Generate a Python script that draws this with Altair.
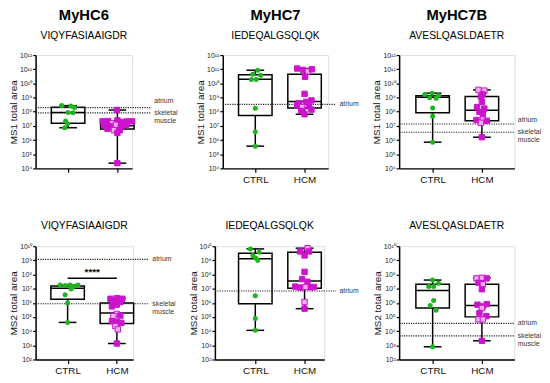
import altair as alt
import pandas as pd

GROUPS = ["CTRL", "HCM"]
GENES = ["MyHC6", "MyHC7", "MyHC7B"]
PEPTIDES = ["VIQYFASIAAIGDR", "IEDEQALGSQLQK", "AVESLQASLDAETR"]

GREEN = "#1fb31f"
MAGENTA = "#cc14cc"
PINK = "#f0b0f0"
FONT = "Liberation Sans"

# all values are log10(total area)
# ---- MS1, MyHC6
P1_CTRL = [8.43, 8.41, 8.29, 7.94, 7.92, 7.34, 7.15, 6.87]
P1_CTRL_JIT = [-0.13, 0.05, 0.13, 0.0, 0.10, -0.05, -0.01, -0.07]
P1_HCM = [8.12, 7.32, 7.34, 7.20, 7.39, 7.28, 7.32, 7.32, 7.04, 6.97, 7.08, 6.97, 7.04, 6.80, 6.69, 6.69, 6.50, 4.37]
P1_HCM_JIT = [-0.01, -0.30, -0.19, -0.10, 0.0, 0.10, 0.20, 0.30, -0.27, -0.15, -0.03, 0.07, 0.17, -0.20, -0.07, 0.05, 0.0, 0.0]
P1_HCM_OPEN = [0, 0, 0, 1, 0, 0, 0, 0, 0, 0, 1, 0, 0, 0, 1, 0, 0, 0]
P1_BOX_CTRL = [6.87, 7.18, 7.94, 8.31, 8.43]
P1_BOX_HCM = [4.37, 6.78, 7.01, 7.20, 8.12]
P1_REF = [("atrium", 8.29), ("skeletal\nmuscle", 7.92)]

# ---- MS1, MyHC7
P2_CTRL = [10.93, 10.65, 10.58, 10.28, 10.28, 8.24, 6.59, 5.57]
P2_CTRL_JIT = [0.05, -0.05, 0.11, -0.08, 0.02, 0.0, 0.0, 0.0]
P2_HCM = [11.05, 10.95, 10.84, 11.0, 10.47, 9.26, 8.61, 8.70, 8.80, 8.45, 8.33, 8.38, 8.06, 8.15, 7.82]
P2_HCM_JIT = [-0.15, -0.03, 0.07, 0.15, 0.01, 0.0, -0.11, 0.03, 0.14, -0.15, -0.05, 0.09, -0.07, 0.14, 0.0]
P2_HCM_OPEN = [0, 0, 1, 0, 0, 0, 0, 0, 0, 0, 1, 0, 0, 0, 0]
P2_BOX_CTRL = [5.57, 7.73, 10.30, 10.61, 10.93]
P2_BOX_HCM = [7.82, 8.26, 8.73, 10.65, 11.05]
P2_REF = [("atrium", 8.52)]

# ---- MS1, MyHC7B
P3_CTRL = [9.22, 9.31, 9.15, 8.98, 8.96, 8.26, 7.68, 5.85]
P3_CTRL_JIT = [-0.16, -0.01, 0.12, -0.06, 0.07, 0.0, 0.0, 0.0]
P3_HCM = [9.54, 9.49, 9.22, 9.08, 8.68, 8.33, 8.22, 7.99, 7.82, 7.41, 7.45, 7.36, 7.22, 6.20]
P3_HCM_JIT = [-0.07, 0.05, 0.02, -0.02, 0.0, -0.10, 0.05, -0.05, 0.02, -0.11, 0.02, 0.10, -0.02, 0.0]
P3_HCM_OPEN = [1, 1, 0, 0, 0, 0, 0, 0, 0, 0, 1, 0, 1, 0]
P3_BOX_CTRL = [5.85, 7.92, 9.03, 9.12, 9.31]
P3_BOX_HCM = [6.20, 7.36, 8.10, 9.08, 9.54]
P3_REF = [("atrium", 7.13), ("skeletal\nmuscle", 6.55)]

# ---- MS2, MyHC6
P4_CTRL = [7.26, 7.22, 7.26, 7.15, 7.26, 6.98, 6.57, 5.99, 4.62]
P4_CTRL_JIT = [-0.15, -0.05, 0.05, 0.12, 0.21, 0.07, -0.05, 0.0, 0.0]
P4_HCM = [6.29, 6.33, 6.29, 6.10, 6.06, 5.87, 5.75, 5.22, 5.06, 5.10, 4.71, 4.66, 4.59, 4.36, 4.13, 3.13]
P4_HCM_JIT = [-0.13, 0.0, 0.11, -0.07, 0.07, 0.0, -0.10, 0.0, -0.07, 0.07, -0.10, 0.0, 0.09, -0.03, 0.02, 0.0]
P4_HCM_OPEN = [0, 0, 0, 0, 0, 0, 0, 1, 1, 0, 0, 0, 0, 1, 1, 0]
P4_BOX_CTRL = [4.62, 6.26, 7.03, 7.19, 7.26]
P4_BOX_HCM = [3.13, 4.55, 5.29, 5.99, 6.33]
P4_REF = [("atrium", 9.07), ("skeletal\nmuscle", 5.94)]
P4_SIG_TEXT = "****"
P4_SIG_LINE = 7.73
P4_SIG_LABEL = 8.19

# ---- MS2, MyHC7
P5_CTRL = [9.81, 9.58, 9.35, 9.16, 9.00, 6.50, 4.90, 4.06]
P5_CTRL_JIT = [-0.10, 0.08, -0.05, 0.01, 0.05, 0.0, 0.0, 0.0]
P5_HCM = [9.86, 9.63, 9.63, 9.35, 8.19, 7.68, 7.49, 7.15, 7.08, 7.12, 7.10, 7.12, 6.06, 5.59]
P5_HCM_JIT = [0.06, -0.09, 0.09, 0.0, 0.0, -0.05, 0.06, -0.19, -0.09, 0.02, 0.13, 0.19, 0.0, 0.0]
P5_HCM_OPEN = [1, 0, 0, 0, 0, 0, 0, 0, 0, 1, 0, 0, 1, 0]
P5_BOX_CTRL = [4.06, 5.94, 9.12, 9.51, 9.81]
P5_BOX_HCM = [5.59, 7.03, 7.54, 9.58, 9.86]
P5_REF = [("atrium", 6.84)]

# ---- MS2, MyHC7B
P6_CTRL = [7.61, 7.38, 7.15, 7.15, 6.17, 5.82, 5.48, 2.90]
P6_CTRL_JIT = [0.0, 0.12, -0.08, 0.02, 0.02, -0.05, 0.07, 0.0]
P6_HCM = [7.73, 7.77, 7.73, 7.42, 7.31, 6.96, 5.87, 5.75, 5.91, 5.64, 5.29, 5.06, 4.83, 4.83, 3.32]
P6_HCM_JIT = [-0.11, 0.0, 0.10, -0.07, 0.02, 0.0, -0.09, 0.02, 0.10, 0.0, -0.05, 0.09, -0.07, 0.02, 0.0]
P6_HCM_OPEN = [1, 1, 0, 0, 1, 0, 0, 0, 0, 1, 0, 0, 1, 1, 0]
P6_BOX_CTRL = [2.90, 5.64, 6.87, 7.31, 7.61]
P6_BOX_HCM = [3.32, 5.01, 5.82, 7.31, 7.77]
P6_REF = [("atrium", 4.55), ("skeletal\nmuscle", 3.67)]

SUP = {"0": "\u2070", "1": "\u00b9", "2": "\u00b2", "3": "\u00b3", "4": "\u2074",
       "5": "\u2075", "6": "\u2076", "7": "\u2077", "8": "\u2078", "9": "\u2079"}


def sup(n):
    return "10" + "".join(SUP[c] for c in str(n))


BOX_HW = 0.34
CAP_HW = 0.18


def panel(cfg):
    lo, hi = cfg["xdom"]
    e0, e1 = cfg["ydom"]
    W = cfg["width"]
    ysc = alt.Scale(type="log", domain=[10 ** e0, 10 ** e1], nice=False)
    xsc = alt.Scale(domain=[lo, hi], nice=False, zero=False)
    exps = list(range(e0, e1 + 1))
    lab_expr = "[" + ",".join("'%s'" % sup(e) for e in exps) + "][round(log(datum.value)/LN10)-%d]" % e0
    yax = alt.Axis(values=[10 ** e for e in exps], labelExpr=lab_expr, title=cfg["ytitle"],
                   grid=False, tickSize=3, labelPadding=1, titlePadding=1, labelFontSize=7,
                   titleFontSize=10, titleFontWeight="normal", domainColor="black",
                   tickColor="black", domainWidth=1.5, tickWidth=1.2, labelColor="#222",
                   titleColor="#111")
    gexpr = "datum.value == 1 ? '%s' : '%s'" % (GROUPS[0], GROUPS[1])
    xax = alt.Axis(values=[1, 2], labelExpr=gexpr, title=None, grid=False, tickSize=4,
                   labels=cfg["xlabels"], labelFontSize=10, labelPadding=2,
                   domainColor="black", tickColor="black", domainWidth=1.5, tickWidth=1.2,
                   labelColor="#111")

    stats = pd.DataFrame({
        "g": GROUPS,
        "pos": [1, 2],
        "mn": [10 ** v for v in (cfg["box"][0][0], cfg["box"][1][0])],
        "q1": [10 ** v for v in (cfg["box"][0][1], cfg["box"][1][1])],
        "md": [10 ** v for v in (cfg["box"][0][2], cfg["box"][1][2])],
        "q3": [10 ** v for v in (cfg["box"][0][3], cfg["box"][1][3])],
        "mx": [10 ** v for v in (cfg["box"][0][4], cfg["box"][1][4])],
    })
    stats["bl"] = stats["pos"] - BOX_HW
    stats["br"] = stats["pos"] + BOX_HW
    stats["cl"] = stats["pos"] - CAP_HW
    stats["cr"] = stats["pos"] + CAP_HW

    base = alt.Chart(stats)
    X = lambda f: alt.X(f, type="quantitative", scale=xsc, axis=xax)
    whisk = base.mark_rule(color="black", strokeWidth=1.5).encode(
        x=X("pos"), y=alt.Y("mn:Q", scale=ysc, axis=yax), y2="mx:Q")
    box = base.mark_rect(fill="white", stroke="black", strokeWidth=1.5).encode(
        x=X("bl"), x2="br:Q", y=alt.Y("q1:Q", scale=ysc, axis=yax), y2="q3:Q")
    med = base.mark_rule(color="black", strokeWidth=1.5).encode(
        x=X("bl"), x2="br:Q", y=alt.Y("md:Q", scale=ysc, axis=yax))
    capmin = base.mark_rule(color="black", strokeWidth=1.5).encode(
        x=X("cl"), x2="cr:Q", y=alt.Y("mn:Q", scale=ysc, axis=yax))
    capmax = base.mark_rule(color="black", strokeWidth=1.5).encode(
        x=X("cl"), x2="cr:Q", y=alt.Y("mx:Q", scale=ysc, axis=yax))

    refs = pd.DataFrame({
        "name": [r[0] for r in cfg["ref"]],
        "v": [10 ** r[1] for r in cfg["ref"]],
        "x0": lo,
        "x1": cfg["ref_end"],
        "xt": cfg["ref_end"] + 0.07,
        "dy": [cfg["atr_dy"] if r[0] == "atrium" else 0 for r in cfg["ref"]],
    })
    rline = alt.Chart(refs).mark_rule(color="#222", strokeWidth=1.1, strokeDash=[1.2, 1.2]).encode(
        x=X("x0"), x2="x1:Q", y=alt.Y("v:Q", scale=ysc, axis=yax))
    layers = [whisk, box, rline, med, capmin, capmax]
    for _, r in refs.iterrows():
        t = alt.Chart(pd.DataFrame([r])).mark_text(
            align="left", baseline="middle", fontSize=7, color="#333", dy=float(r["dy"]),
            lineBreak="\n", lineHeight=8, font=FONT).encode(
            x=X("xt"), y=alt.Y("v:Q", scale=ysc, axis=yax), text="name:N")
        layers.append(t)

    c = pd.DataFrame({"v": [10 ** v for v in cfg["ctrl"]],
                      "x": [1 + j for j in cfg["ctrl_jit"]]})
    h = pd.DataFrame({"v": [10 ** v for v in cfg["hcm"]],
                      "x": [2 + j for j in cfg["hcm_jit"]],
                      "open": cfg["hcm_open"]})
    cpts = alt.Chart(c).mark_circle(color=GREEN, size=26, opacity=1).encode(
        x=X("x"), y=alt.Y("v:Q", scale=ysc, axis=yax))
    hpts = alt.Chart(h).mark_square(size=30, opacity=1, stroke=MAGENTA, strokeWidth=1).encode(
        x=X("x"), y=alt.Y("v:Q", scale=ysc, axis=yax),
        fill=alt.condition("datum.open == 1", alt.value(PINK), alt.value(MAGENTA)))
    layers += [cpts, hpts]

    if cfg.get("sig"):
        sd = pd.DataFrame({"a": [1.0], "b": [2.0], "m": [1.5],
                           "y": [10 ** P4_SIG_LINE], "yt": [10 ** P4_SIG_LABEL],
                           "t": [P4_SIG_TEXT]})
        layers.append(alt.Chart(sd).mark_rule(color="black", strokeWidth=1.5).encode(
            x=X("a"), x2="b:Q", y=alt.Y("y:Q", scale=ysc, axis=yax)))
        layers.append(alt.Chart(sd).mark_text(fontSize=10, fontWeight="bold", baseline="middle",
                                              font=FONT).encode(
            x=X("m"), y=alt.Y("yt:Q", scale=ysc, axis=yax), text="t:N"))

    if cfg["gene"]:
        title = alt.TitleParams(text=cfg["gene"], subtitle=cfg["pep"], fontSize=15,
                                fontWeight="bold", subtitleFontSize=10.5, anchor="middle",
                                offset=10, subtitlePadding=8, font=FONT, subtitleFont=FONT,
                                color="black", subtitleColor="black")
    else:
        title = alt.TitleParams(text=cfg["pep"], fontSize=10.5, fontWeight="normal",
                                anchor="middle", offset=11, font=FONT, color="black")
    return alt.layer(*layers).properties(width=W, height=115, title=title)


cfgs = [
    dict(gene=GENES[0], pep=PEPTIDES[0], ytitle="MS1 total area", ydom=(4, 12), xdom=(0.34, 2.30),
         width=98, ref_end=2.68, atr_dy=-7, xlabels=False, ctrl=P1_CTRL, ctrl_jit=P1_CTRL_JIT,
         hcm=P1_HCM, hcm_jit=P1_HCM_JIT, hcm_open=P1_HCM_OPEN, box=(P1_BOX_CTRL, P1_BOX_HCM), ref=P1_REF),
    dict(gene=GENES[1], pep=PEPTIDES[1], ytitle="MS1 total area", ydom=(4, 12), xdom=(0.34, 2.48),
         width=107, ref_end=2.64, atr_dy=0, xlabels=True, ctrl=P2_CTRL, ctrl_jit=P2_CTRL_JIT,
         hcm=P2_HCM, hcm_jit=P2_HCM_JIT, hcm_open=P2_HCM_OPEN, box=(P2_BOX_CTRL, P2_BOX_HCM), ref=P2_REF),
    dict(gene=GENES[2], pep=PEPTIDES[2], ytitle="MS1 total area", ydom=(4, 12), xdom=(0.32, 2.66),
         width=117, ref_end=2.66, atr_dy=-4, xlabels=True, ctrl=P3_CTRL, ctrl_jit=P3_CTRL_JIT,
         hcm=P3_HCM, hcm_jit=P3_HCM_JIT, hcm_open=P3_HCM_OPEN, box=(P3_BOX_CTRL, P3_BOX_HCM), ref=P3_REF),
    dict(gene=None, pep=PEPTIDES[0], ytitle="MS2 total area", ydom=(2, 10), xdom=(0.35, 2.33),
         width=99, ref_end=2.65, atr_dy=0, xlabels=True, ctrl=P4_CTRL, ctrl_jit=P4_CTRL_JIT,
         hcm=P4_HCM, hcm_jit=P4_HCM_JIT, hcm_open=P4_HCM_OPEN, box=(P4_BOX_CTRL, P4_BOX_HCM), ref=P4_REF,
         sig=True),
    dict(gene=None, pep=PEPTIDES[1], ytitle="MS2 total area", ydom=(2, 10), xdom=(0.18, 2.40),
         width=111, ref_end=2.64, atr_dy=0, xlabels=True, ctrl=P5_CTRL, ctrl_jit=P5_CTRL_JIT,
         hcm=P5_HCM, hcm_jit=P5_HCM_JIT, hcm_open=P5_HCM_OPEN, box=(P5_BOX_CTRL, P5_BOX_HCM), ref=P5_REF),
    dict(gene=None, pep=PEPTIDES[2], ytitle="MS2 total area", ydom=(2, 10), xdom=(0.32, 2.66),
         width=117, ref_end=2.66, atr_dy=0, xlabels=True, ctrl=P6_CTRL, ctrl_jit=P6_CTRL_JIT,
         hcm=P6_HCM, hcm_jit=P6_HCM_JIT, hcm_open=P6_HCM_OPEN, box=(P6_BOX_CTRL, P6_BOX_HCM), ref=P6_REF),
]

p = [panel(c) for c in cfgs]
top = alt.hconcat(alt.hconcat(p[0], p[1], spacing=17), p[2], spacing=12)
bottom = alt.hconcat(alt.hconcat(p[3], p[4], spacing=11), p[5], spacing=12)

chart = alt.vconcat(top, bottom, spacing=36).properties(
    padding={"left": 0, "top": -3, "right": 0, "bottom": 0}
).configure_view(stroke=None).configure_axis(labelFont=FONT, titleFont=FONT).configure(
    background="white")

chart.save("out.html", embed_options={"renderer": "svg", "actions": False})
